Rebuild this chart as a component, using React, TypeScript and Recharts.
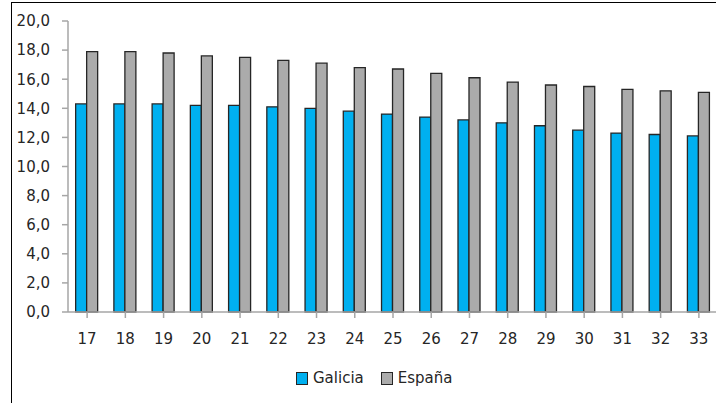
import { BarChart, Bar, XAxis, YAxis } from "recharts";

const ages = ["17", "18", "19", "20", "21", "22", "23", "24", "25", "26", "27", "28", "29", "30", "31", "32", "33"];
const galicia = [14.3, 14.3, 14.3, 14.2, 14.2, 14.1, 14.0, 13.8, 13.6, 13.4, 13.2, 13.0, 12.8, 12.5, 12.3, 12.2, 12.1];
const espana = [17.9, 17.9, 17.8, 17.6, 17.5, 17.3, 17.1, 16.8, 16.7, 16.4, 16.1, 15.8, 15.6, 15.5, 15.3, 15.2, 15.1];
const yTicks = [0, 2, 4, 6, 8, 10, 12, 14, 16, 18, 20];
const seriesNames = ["Galicia", "España"];

const BLUE = "#00B0F0";
const GREY = "#ABABAB";
const EDGE = "#262626";
const AXIS = "#A6A6A6";
const FONT = "'DejaVu Sans', sans-serif";

const data = ages.map((a, i) => ({ age: a, galicia: galicia[i], espana: espana[i] }));

const fmt = (v: number) => v.toFixed(1).replace(".", ",");

export default function App() {
  const tick = { fill: "#262626", fontSize: 15, fontFamily: FONT };
  return (
    <div style={{ position: "absolute", left: 0, top: 0, width: 716, height: 403, overflow: "hidden", background: "#fff" }}>
      <div
        style={{
          position: "absolute",
          left: 11,
          top: 2,
          width: 760,
          height: 440,
          border: "1.5px solid #000",
        }}
      />
      <div style={{ position: "absolute", left: 0, top: 0 }}>
        <BarChart
          width={740}
          height={403}
          data={data}
          margin={{ top: 21, right: 22, bottom: 51, left: 0 }}
          barCategoryGap="20%"
          barGap={0}
        >
          <XAxis
            dataKey="age"
            tick={tick}
            tickSize={6}
            tickMargin={15}
            height={40}
            axisLine={{ stroke: AXIS, strokeWidth: 1.5 }}
            tickLine={{ stroke: AXIS, strokeWidth: 1.5 }}
            interval={0}
          />
          <YAxis
            domain={[0, 20]}
            ticks={yTicks}
            tickFormatter={fmt}
            tick={tick}
            width={68}
            tickSize={6}
            tickMargin={12}
            axisLine={{ stroke: AXIS, strokeWidth: 1.5 }}
            tickLine={{ stroke: AXIS, strokeWidth: 1.5 }}
          />
          <Bar dataKey="galicia" name={seriesNames[0]} fill={BLUE} stroke={EDGE} strokeWidth={1.3} isAnimationActive={false} />
          <Bar dataKey="espana" name={seriesNames[1]} fill={GREY} stroke={EDGE} strokeWidth={1.3} isAnimationActive={false} />
        </BarChart>
      </div>
      <div
        style={{
          position: "absolute",
          left: 296,
          top: 368,
          display: "flex",
          alignItems: "center",
          fontFamily: FONT,
          fontSize: 15,
          color: "#262626",
          lineHeight: "20px",
        }}
      >
        {seriesNames.map((n, i) => (
          <div key={n} style={{ display: "flex", alignItems: "center", marginRight: 17 }}>
            <span
              style={{
                display: "inline-block",
                width: 10,
                height: 11,
                background: i === 0 ? BLUE : GREY,
                border: `1px solid ${EDGE}`,
                marginRight: 5,
              }}
            />
            <span>{n}</span>
          </div>
        ))}
      </div>
    </div>
  );
}
